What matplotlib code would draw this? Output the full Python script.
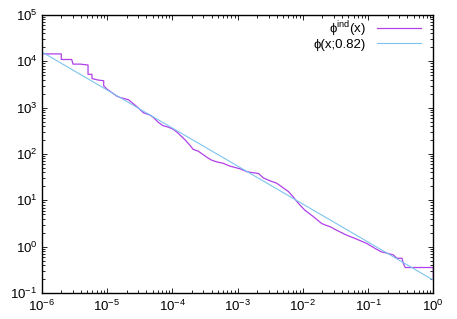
import matplotlib
matplotlib.use("Agg")
import matplotlib.pyplot as plt
import matplotlib.ticker as mticker
import numpy as np

plt.rcParams['font.family'] = ['Liberation Sans', 'DejaVu Sans']
plt.rcParams['mathtext.fontset'] = 'custom'
plt.rcParams['mathtext.rm'] = 'Liberation Sans'
plt.rcParams['mathtext.it'] = 'Liberation Sans'

ind_logx = [-6.00, -5.70, -5.70, -5.54, -5.52, -5.41, -5.29, -5.29, -5.23, -5.23,
            -5.15, -5.05, -5.05, -5.00, -4.92, -4.85, -4.80, -4.67, -4.54, -4.44,
            -4.34, -4.29, -4.21, -4.14, -4.06, -3.98, -3.91, -3.80, -3.73, -3.68,
            -3.60, -3.55, -3.47, -3.40, -3.32, -3.22, -3.12, -2.96, -2.86, -2.78,
            -2.68, -2.60, -2.50, -2.40, -2.32, -2.22, -2.15, -2.07, -1.97, -1.84,
            -1.71, -1.66, -1.58, -1.46, -1.33, -1.17, -1.02, -0.89, -0.80, -0.71,
            -0.61, -0.56, -0.48, -0.46, -0.43, 0.00, 0.00]
ind_logy = [4.16, 4.16, 4.04, 4.04, 3.94, 3.94, 3.92, 3.72, 3.72, 3.63,
            3.60, 3.58, 3.47, 3.40, 3.32, 3.25, 3.22, 3.17, 3.02, 2.89,
            2.84, 2.79, 2.68, 2.61, 2.58, 2.53, 2.45, 2.30, 2.19, 2.10,
            2.06, 2.01, 1.93, 1.87, 1.83, 1.80, 1.74, 1.68, 1.62, 1.60,
            1.58, 1.48, 1.42, 1.37, 1.29, 1.19, 1.08, 0.94, 0.79, 0.65,
            0.50, 0.47, 0.43, 0.34, 0.25, 0.16, 0.07, -0.04, -0.11, -0.14,
            -0.18, -0.25, -0.25, -0.36, -0.45, -0.45, -0.68]

# phi(x;0.82) fitted power law, endpoints
fit_x = [1e-6, 1.0]
fit_y = [1.6e4, 0.19]

xticks = [1e-6, 1e-5, 1e-4, 1e-3, 1e-2, 1e-1, 1e0]
xticklabels = ['$10^{-6}$', '$10^{-5}$', '$10^{-4}$', '$10^{-3}$', '$10^{-2}$', '$10^{-1}$', '$10^{0}$']
yticks = [1e-1, 1e0, 1e1, 1e2, 1e3, 1e4, 1e5]
yticklabels = ['$10^{-1}$', '$10^{0}$', '$10^{1}$', '$10^{2}$', '$10^{3}$', '$10^{4}$', '$10^{5}$']

ind_x = 10 ** np.array(ind_logx)
ind_y = 10 ** np.array(ind_logy)

fig = plt.figure(figsize=(4.57, 3.19), dpi=100)
ax = fig.add_axes([41.7 / 457, 1 - 293 / 319, (433.3 - 41.7) / 457, (293 - 15) / 319])

ax.plot(ind_x, ind_y, color='#b040e8', lw=0.9, label=r'ϕ$^{\mathrm{ind}}$(x)')
ax.plot(fit_x, fit_y, color='#7cc4ee', lw=0.8, label='ϕ(x;0.82)')

ax.set_xscale('log')
ax.set_yscale('log')
ax.set_xlim(1e-6, 1)
ax.set_ylim(1e-1, 1e5)
ax.set_xticks(xticks)
ax.set_xticklabels(xticklabels)
ax.set_yticks(yticks)
ax.set_yticklabels(yticklabels)
ax.xaxis.set_minor_locator(mticker.LogLocator(base=10, subs=np.arange(2, 10)))
ax.yaxis.set_minor_locator(mticker.LogLocator(base=10, subs=np.arange(2, 10)))
ax.xaxis.set_minor_formatter(mticker.NullFormatter())
ax.yaxis.set_minor_formatter(mticker.NullFormatter())
ax.tick_params(which='both', direction='in', top=True, right=True, labelsize=9.5, width=0.6)
ax.tick_params(which='major', length=3.5)
ax.tick_params(which='minor', length=2)
ax.tick_params(axis='x', pad=4)
ax.tick_params(axis='y', pad=3)
for s in ax.spines.values():
    s.set_linewidth(1.0)

ax.legend(loc='upper right', frameon=False, markerfirst=False, fontsize=9.5,
          handlelength=3.3, borderaxespad=0.0, borderpad=0.2, labelspacing=0.0,
          handletextpad=0.9, bbox_to_anchor=(0.975, 0.995))

fig.savefig('out.png', dpi=100)
